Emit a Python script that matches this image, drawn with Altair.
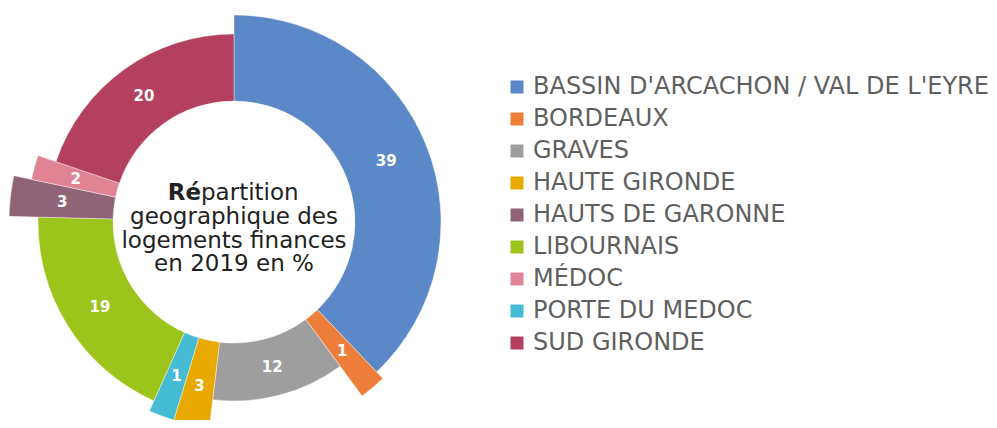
import altair as alt
import pandas as pd

# Data (ring order, clockwise from 12 o'clock)
regions = ["BASSIN D'ARCACHON / VAL DE L'EYRE", "BORDEAUX", "GRAVES", "HAUTE GIRONDE",
           "PORTE DU MEDOC", "LIBOURNAIS", "HAUTS DE GARONNE", "MÉDOC", "SUD GIRONDE"]
# printed labels (%)
labels_pct = [39, 1, 12, 3, 1, 19, 3, 2, 20]
# slice sizes as drawn in the picture (% of the circle)
drawn_share = [37.9, 2.0, 12.0, 2.8, 2.0, 18.7, 2.9, 1.9, 19.8]
# second measure: outer extent of each slice (variable-radius donut)
extent = [207, 216, 179, 215, 207, 196, 225, 207, 188]

legend_order = ["BASSIN D'ARCACHON / VAL DE L'EYRE", "BORDEAUX", "GRAVES", "HAUTE GIRONDE",
                "HAUTS DE GARONNE", "LIBOURNAIS", "MÉDOC", "PORTE DU MEDOC", "SUD GIRONDE"]
legend_colors = ["#5B89C7", "#EE7E3B", "#9E9E9E", "#E8AA00", "#906477",
                 "#9DC41B", "#E08495", "#45BCD4", "#B4405F"]

center_title_bold = "Ré"
center_title_rest = "partition"
center_lines = ["geographique des", "logements finances", "en 2019 en %"]

INNER = 121

df = pd.DataFrame({"region": regions, "share": drawn_share, "label": labels_pct,
                   "extent": extent, "order": list(range(len(regions)))})

CX, CY = 226, 214
FONT = "DejaVu Sans"

rscale = alt.Scale(type="linear", domain=[0, 230], range=[0, 230], zero=True)
tscale = alt.Scale(type="linear", domain=[0, 100], range=[0, 6.283185307179586], zero=True)

base = alt.Chart(df).transform_window(
    cum="sum(share)", sort=[alt.SortField("order", order="ascending")],
    frame=[None, 0]
).transform_calculate(
    start="datum.cum - datum.share",
    midang="datum.cum - datum.share / 2",
    mid="(datum.extent + %d) / 2" % INNER,
).encode(
    x=alt.value(CX),
    y=alt.value(CY),
)

arcs = base.mark_arc(stroke="white", strokeWidth=0.4).encode(
    theta=alt.Theta("start:Q", scale=tscale, stack=None),
    theta2=alt.Theta2("cum:Q"),
    radius=alt.Radius("extent:Q", scale=rscale, stack=None),
    radius2=alt.value(INNER),
    color=alt.Color("region:N",
                    scale=alt.Scale(domain=legend_order, range=legend_colors),
                    sort=legend_order,
                    legend=alt.Legend(title=None, orient="none", legendX=497, legendY=67,
                                      symbolType="square", symbolSize=169,
                                      symbolStrokeWidth=0, labelFont=FONT,
                                      labelFontSize=24, labelColor="#5f5f5f",
                                      labelOffset=4, rowPadding=8, padding=0,
                                      labelLimit=600)),
)

labels = base.mark_text(font=FONT, fontSize=15, fontWeight="bold", color="white").encode(
    theta=alt.Theta("midang:Q", scale=tscale, stack=None),
    radius=alt.Radius("mid:Q", scale=rscale, stack=None),
    text=alt.Text("label:Q"),
)

t_bold = alt.Chart(pd.DataFrame({"t": [center_title_bold]})).mark_text(
    font=FONT, fontSize=23, fontWeight="bold", color="#222222", align="right",
    baseline="alphabetic").encode(text="t:N", x=alt.value(193), y=alt.value(192))
t_rest = alt.Chart(pd.DataFrame({"t": [center_title_rest]})).mark_text(
    font=FONT, fontSize=23, color="#222222", align="left",
    baseline="alphabetic").encode(text="t:N", x=alt.value(193), y=alt.value(192))
t_lines = alt.Chart(pd.DataFrame({"i": [0]})).mark_text(
    font=FONT, fontSize=23, color="#222222", align="center", baseline="alphabetic",
    lineHeight=23.5, text=center_lines).encode(x=alt.value(CX), y=alt.value(216))

chart = alt.layer(arcs, labels, t_bold, t_rest, t_lines).properties(
    width=981, height=412, autosize="none", padding=0,
).configure_view(stroke=None)

chart.save("out.html", embed_options={"renderer": "svg", "actions": False})
